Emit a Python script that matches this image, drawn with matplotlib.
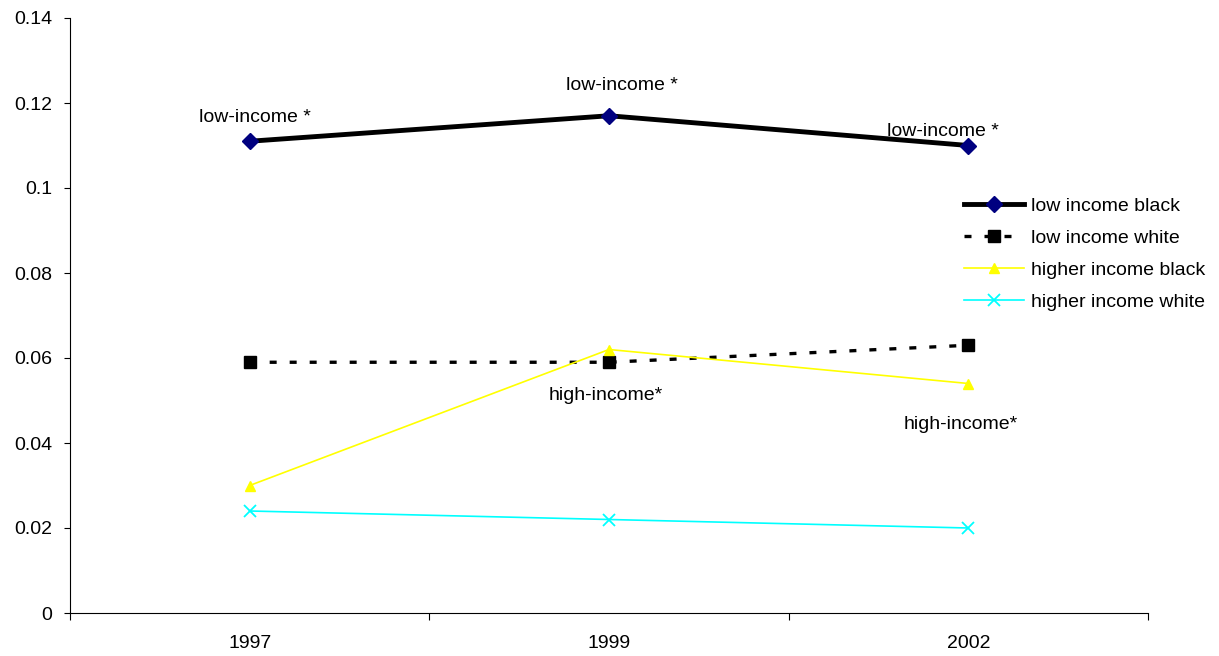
import matplotlib
matplotlib.use('Agg')
import matplotlib.pyplot as plt

plt.rcParams['font.family'] = ['Liberation Sans', 'DejaVu Sans']

years = ['1997', '1999', '2002']
low_black = [0.111, 0.117, 0.110]
low_white = [0.059, 0.059, 0.063]
high_black = [0.030, 0.062, 0.054]
high_white = [0.024, 0.022, 0.020]

fig = plt.figure(figsize=(12.19, 6.56), dpi=100)
ax = fig.add_axes([70/1219, 1 - 613/656, (1148-70)/1219, (613-18)/656])

x = list(range(len(years)))
ax.plot(x, low_black, color='black', lw=3.5, marker='D', ms=8.5,
        mfc='#000080', mec='#000080', label='low income black')
ax.plot(x, low_white, color='black', lw=2.4, ls=(0, (2.1, 3.9)), marker='s', ms=9,
        mfc='black', mec='black', label='low income white')
ax.plot(x, high_black, color='#ffff00', lw=1.2, marker='^', ms=7,
        mfc='#ffff00', mec='#ffff00', label='higher income black')
ax.plot(x, high_white, color='#00ffff', lw=1.2, marker='x', ms=8, mew=1.3,
        mec='#00ffff', label='higher income white')

# significance notes
fs = 14
ax.text(0.015, 0.1165, 'low-income *', ha='center', va='center', fontsize=fs)
ax.text(1.035, 0.1242, 'low-income *', ha='center', va='center', fontsize=fs)
ax.text(1.93, 0.1133, 'low-income *', ha='center', va='center', fontsize=fs)
ax.text(0.99, 0.0511, 'high-income*', ha='center', va='center', fontsize=fs)
ax.text(1.98, 0.0443, 'high-income*', ha='center', va='center', fontsize=fs)

ax.set_xlim(-0.5, 2.5)
ax.set_ylim(0, 0.14)
ax.set_yticks([0, 0.02, 0.04, 0.06, 0.08, 0.1, 0.12, 0.14])
ax.set_yticklabels(['0', '0.02', '0.04', '0.06', '0.08', '0.1', '0.12', '0.14'])
ax.set_xticks([-0.5, 0.5, 1.5, 2.5])
ax.set_xticklabels([])
ax.set_xticks(x, minor=True)
ax.set_xticklabels(years, minor=True)
ax.tick_params(axis='x', which='minor', length=0, pad=16, labelsize=fs)
ax.tick_params(axis='x', which='major', length=5, direction='out')
ax.tick_params(axis='y', length=4, direction='out', labelsize=fs, pad=9)
ax.spines['top'].set_visible(False)
ax.spines['right'].set_visible(False)

fig.legend(loc='upper left', bbox_to_anchor=(964/1219, 1 - 197/656), frameon=False,
           fontsize=fs, handlelength=3.1, handletextpad=0.35, labelspacing=0.75,
           borderaxespad=0, borderpad=0)

fig.savefig('out.png', dpi=100)
